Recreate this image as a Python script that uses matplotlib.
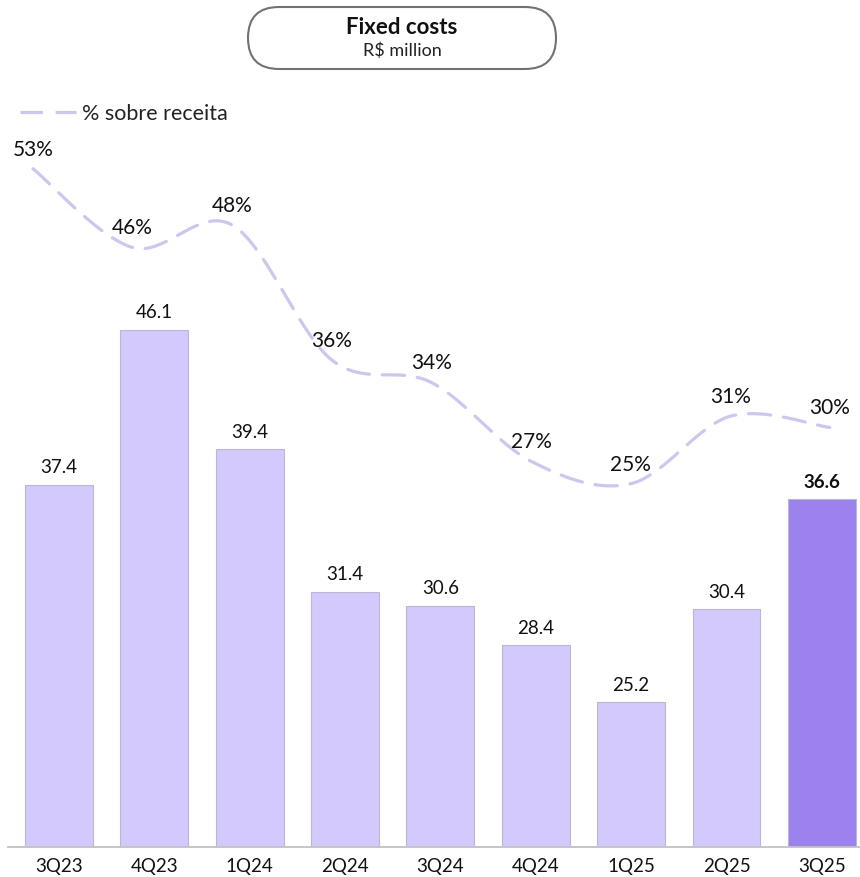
import numpy as np
import matplotlib
matplotlib.use("Agg")
import matplotlib.pyplot as plt
from matplotlib.patches import FancyBboxPatch
from matplotlib import font_manager

categories = ["3Q23", "4Q23", "1Q24", "2Q24", "3Q24", "4Q24", "1Q25", "2Q25", "3Q25"]
fixed_costs = [37.4, 46.1, 39.4, 31.4, 30.6, 28.4, 25.2, 30.4, 36.6]
pct_revenue = [53, 46, 48, 36, 34, 27, 25, 31, 30]
pct_labels = ["53%", "46%", "48%", "36%", "34%", "27%", "25%", "31%", "30%"]

title = "Fixed costs"
subtitle = "R$ million"
legend_label = "% sobre receita"

names = {f.name for f in font_manager.fontManager.ttflist}
FONT = ["Lato", "DejaVu Sans"] if "Lato" in names else ["DejaVu Sans"]
MED = ["Lato Medium", "Lato", "DejaVu Sans"] if "Lato Medium" in names else FONT
plt.rcParams["font.family"] = FONT

W, H = 860, 878
fig = plt.figure(figsize=(W / 100, H / 100), dpi=100)

left_px, right_px, top_px, bottom_px = 8, 860, 100, 848
pos = [left_px / W, 1 - bottom_px / H, (right_px - left_px) / W, (bottom_px - top_px) / H]
ax = fig.add_axes(pos)
x = np.arange(len(categories))
colors = ["#d4c9fc"] * (len(categories) - 1) + ["#9c82ec"]
ax.bar(x, fixed_costs, width=0.713, color=colors, edgecolor="#bdb6d2", linewidth=0.8, zorder=2)
ax.set_xlim(-0.535, 8.40)
ax.set_ylim(17.06, 59.07)
for s in ["top", "left", "right"]:
    ax.spines[s].set_visible(False)
ax.spines["bottom"].set_color("#c2c2c2")
ax.spines["bottom"].set_linewidth(1.3)
ax.set_yticks([])
ax.set_xticks(x)
ax.set_xticklabels(categories, fontsize=13.5, family=MED, color="#111111")
ax.tick_params(axis="x", length=0, pad=7)
for i, v in enumerate(fixed_costs):
    last = i == len(fixed_costs) - 1
    ax.annotate(f"{v:.1f}", (x[i], v), xytext=(0, 13), textcoords="offset points",
                ha="center", va="center", fontsize=13.5,
                family=FONT if last else MED,
                fontweight="bold" if last else "normal", color="#111111")

ax2 = fig.add_axes(pos)
ax2.patch.set_visible(False)
ax2.axis("off")
ax2.set_xlim(-0.251, 8.303)
ax2.set_ylim(-7.29, 59.2)
fig.canvas.draw()
pts = ax2.transData.transform(np.column_stack([x, pct_revenue]))
n = len(pts)
curve = []
for i in range(n - 1):
    p0 = pts[max(i - 1, 0)]
    p1 = pts[i]
    p2 = pts[i + 1]
    p3 = pts[min(i + 2, n - 1)]
    c1 = p1 + (p2 - p0) / 6
    c2 = p2 - (p3 - p1) / 6
    t = np.linspace(0, 1, 40)[:, None]
    seg = (1 - t) ** 3 * p1 + 3 * (1 - t) ** 2 * t * c1 + 3 * (1 - t) * t ** 2 * c2 + t ** 3 * p2
    curve.append(seg if i == 0 else seg[1:])
curve = np.vstack(curve)
curve_data = ax2.transData.inverted().transform(curve)
ax2.plot(curve_data[:, 0], curve_data[:, 1], color="#cdc6ef", lw=2.3,
         linestyle=(0, (7, 4)), dash_capstyle="round")
for i, (p, lab) in enumerate(zip(pct_revenue, pct_labels)):
    ax2.annotate(lab, (x[i], p), xytext=(0, 14.5), textcoords="offset points",
                 ha="center", va="center", fontsize=15, family=MED, color="#111111")

ov = fig.add_axes([0, 0, 1, 1])
ov.patch.set_visible(False)
ov.axis("off")
ov.set_xlim(0, W)
ov.set_ylim(H, 0)
box = FancyBboxPatch((248, 8), 308, 62, boxstyle="round,pad=0,rounding_size=31",
                     facecolor="white", edgecolor="#727272", linewidth=1.5)
ov.add_patch(box)
ov.text(402, 28, title, ha="center", va="center", fontsize=16, fontweight="bold", color="#111111")
ov.text(402, 51, subtitle, ha="center", va="center", fontsize=13, family=MED, color="#222222")
ov.plot([20, 76], [113, 113], color="#cdc6ef", lw=2.3, linestyle=(0, (7, 4)))
ov.text(82, 114, legend_label, ha="left", va="center", fontsize=15.5, family=MED, color="#222222")

fig.savefig("out.png", dpi=100)
